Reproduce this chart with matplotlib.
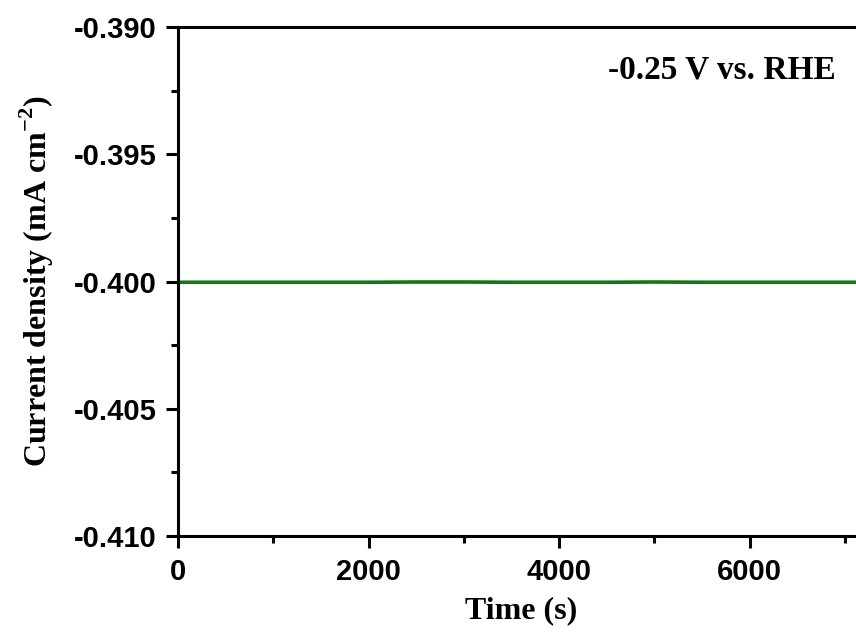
import matplotlib
matplotlib.use("Agg")
import matplotlib.pyplot as plt
from matplotlib.ticker import MultipleLocator

plt.rcParams["mathtext.fontset"] = "custom"
plt.rcParams["mathtext.bf"] = "Liberation Serif:bold"
plt.rcParams["mathtext.rm"] = "Liberation Serif:bold"

time_s = [0, 500, 1000, 1500, 2000, 2500, 3000, 3500, 4000, 4500, 5000, 5500, 6000, 6500, 7000, 7200]
current = [-0.40003, -0.40003, -0.40003, -0.40003, -0.40003, -0.40002, -0.40002, -0.40003,
           -0.40003, -0.40003, -0.40002, -0.40003, -0.40003, -0.40003, -0.40003, -0.40003]
yticks = [-0.410, -0.405, -0.400, -0.395, -0.390]
xticks = [0, 2000, 4000, 6000]

fig = plt.figure(figsize=(8.56, 6.33), dpi=100)
ax = fig.add_axes([178/856, 97/633, 686/856, 509/633])

ax.plot(time_s, current, color="#137813", linewidth=2.6)

ax.set_xlim(0, 7200)
ax.set_ylim(-0.410, -0.390)
ax.set_xticks(xticks)
ax.set_yticks(yticks)
ax.set_yticklabels([f"{v:.3f}" for v in yticks])
ax.xaxis.set_minor_locator(MultipleLocator(1000))
ax.yaxis.set_minor_locator(MultipleLocator(0.0025))

for s in ["left", "bottom", "top"]:
    ax.spines[s].set_linewidth(2.2)
ax.spines["right"].set_visible(False)

ax.tick_params(which="major", direction="out", length=8.5, width=2.2, pad=7,
               top=False, right=False)
ax.tick_params(which="minor", direction="out", length=5, width=2.2,
               top=False, right=False)
for lab in ax.get_xticklabels() + ax.get_yticklabels():
    lab.set_fontfamily("Liberation Sans")
    lab.set_fontweight("bold")
    lab.set_fontsize(21)

ax.set_xlabel("Time (s)", fontfamily="Liberation Serif", fontweight="bold",
              fontsize=23, labelpad=8)
ax.set_ylabel(r"Current density (mA cm$^{\mathbf{-2}}$)", fontfamily="Liberation Serif",
              fontweight="bold", fontsize=23, labelpad=13)

ax.text(0.959, 0.915, "-0.25 V vs. RHE", transform=ax.transAxes, ha="right", va="center",
        fontfamily="Liberation Serif", fontweight="bold", fontsize=24)

fig.savefig("out.png", dpi=100)
